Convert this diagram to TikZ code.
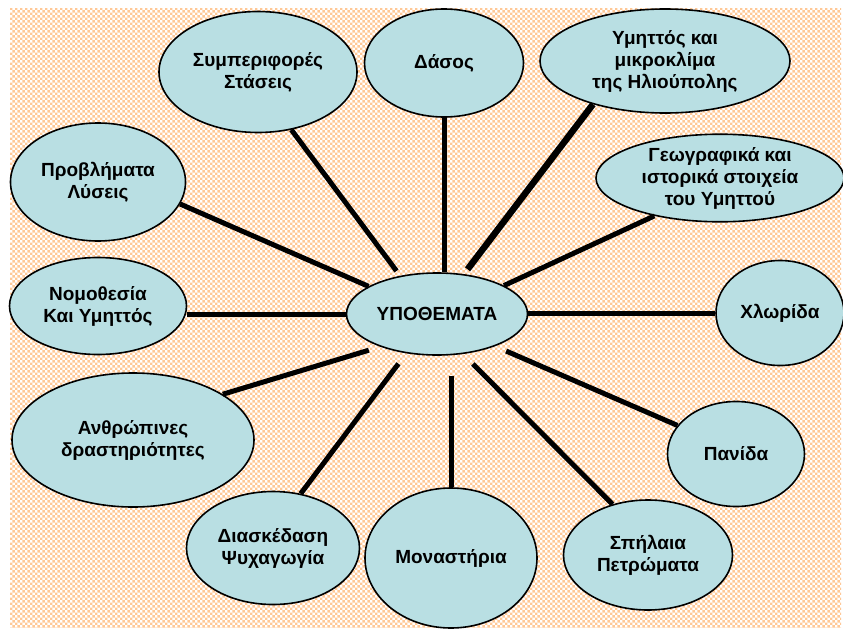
\documentclass[tikz,border=0pt]{standalone}
\usepackage{fontspec}
\setmainfont{Liberation Sans}
\usetikzlibrary{shapes.geometric,patterns.meta}

\definecolor{bubble}{RGB}{185,223,227}
\definecolor{peach}{RGB}{255,200,150}

% small checkered background
\tikzdeclarepattern{
    name=checks,
    type=uncolored,
    bottom left={(0pt,0pt)},
    top right={(5.4pt,5.4pt)},
    tile size={(5.4pt,5.4pt)},
    code={
        \fill (0pt,0pt) rectangle (2.7pt,2.7pt);
        \fill (2.7pt,2.7pt) rectangle (5.4pt,5.4pt);
    }
}

\begin{document}
\begin{tikzpicture}[x=1pt, y=-1pt,
    topic/.style={draw, ellipse, line width=1.6pt, fill=bubble, inner sep=0pt,
        align=center, font=\bfseries\fontsize{19}{22}\selectfont},
    spoke/.style={line width=5pt}]
    \path[use as bounding box] (0,0) rectangle (843,629);
    \fill[white] (0,0) rectangle (843,629);
    \fill[pattern=checks, pattern color=peach] (10,8) rectangle (841,627);

    % centre
    \node[topic, minimum width=181pt, minimum height=82pt] (hub) at (437,314) {ΥΠΟΘΕΜΑΤΑ};

    % top row
    \node[topic, minimum width=198pt, minimum height=121pt] (behav) at (258,72) {Συμπεριφορές\\Στάσεις};
    \node[topic, minimum width=159pt, minimum height=108pt] (forest) at (444,63) {Δάσος};
    \node[topic, minimum width=250pt, minimum height=104pt] (ymit) at (665,61) {Υμηττός και\\μικροκλίμα\\της Ηλιούπολης};
    \node[topic, minimum width=248pt, minimum height=86pt] (geo) at (720,178) {Γεωγραφικά και\\ιστορικά στοιχεία\\του Υμηττού};

    % left side
    \node[topic, minimum width=175pt, minimum height=118pt] (probl) at (98,182) {Προβλήματα\\Λύσεις};
    \node[topic, minimum width=177pt, minimum height=97pt] (law) at (98,306) {Νομοθεσία\\Και Υμηττός};
    \node[topic, minimum width=242pt, minimum height=134pt] (human) at (133,440) {Ανθρώπινες\\δραστηριότητες};

    % bottom row
    \node[topic, minimum width=173pt, minimum height=113pt] (leisure) at (273,548) {Διασκέδαση\\Ψυχαγωγία};
    \node[topic, minimum width=172pt, minimum height=140pt] (monast) at (451,558) {Μοναστήρια};
    \node[topic, minimum width=169pt, minimum height=110pt] (cave) at (648,555) {Σπήλαια\\Πετρώματα};

    % right side
    \node[topic, minimum width=137pt, minimum height=105pt] (fauna) at (736,454) {Πανίδα};
    \node[topic, minimum width=128pt, minimum height=105pt] (flora) at (780,313) {Χλωρίδα};

    % spokes
    \draw[spoke, shorten >=6pt] (behav.-60) -- (hub.134);
    \draw[spoke] (probl.-15) -- (hub.158);
    \draw[spoke] (forest.south) -- (forest.south |- hub.north);
    \draw[spoke, line width=6.5pt, shorten >=6pt] (ymit.211) -- (hub.56);
    \draw[spoke] (geo.210) -- (hub.23);
    \draw[spoke] (law.east |- hub.west) -- (hub.west);
    \draw[spoke, shorten >=12pt] (human.27) -- (hub.210);
    \draw[spoke, shorten >=13pt] (leisure.63) -- (hub.232);
    \draw[spoke, shorten >=20pt] (monast.north) -- (monast.north |- hub.south);
    \draw[spoke, shorten >=14pt] (cave.125) -- (hub.-57);
    \draw[spoke, shorten >=12pt] (fauna.154) -- (hub.-29);
    \draw[spoke] (flora.west) -- (flora.west -| hub.east);
\end{tikzpicture}
\end{document}
